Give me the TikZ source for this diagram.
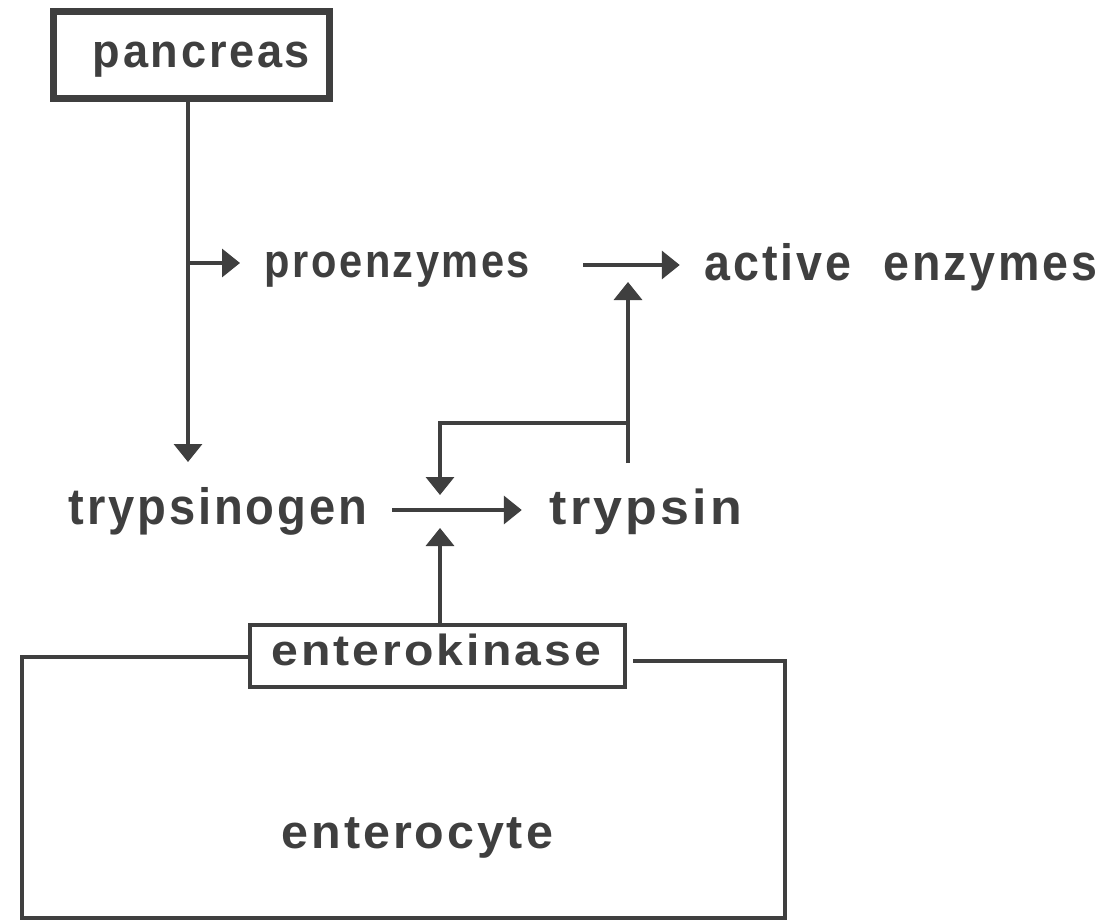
\documentclass[tikz,border=0pt]{standalone}
\usepackage{fontspec}
\setmainfont{Liberation Sans}[LetterSpace=6]
\usepackage{graphicx}
\usetikzlibrary{arrows.meta}
\definecolor{ink}{HTML}{3F3F3F}
\tikzset{
  lbl/.style={inner sep=0pt, anchor=base, text=ink, font=\bfseries},
  conn/.style={draw=ink, line width=3.5pt},
  arr/.style={conn, -{Triangle[length=18pt,width=28pt]}},
  thickbox/.style={draw=ink, line width=7pt, inner sep=0pt},
  thinbox/.style={draw=ink, line width=4pt, inner sep=0pt},
}
% #1 = width, #2 = x-height, #3 = text
\newcommand{\fitxh}[3]{\resizebox{#1}{#2}{\smash{#3}\vphantom{x}}}
\begin{document}
\begin{tikzpicture}[x=1pt,y=-1pt]
  \useasboundingbox[fill=white] (0,0) rectangle (1112,921);
  % boxes and labels
  \node[thickbox, minimum width=276pt, minimum height=87pt] (pbox) at (191.5,55) {};
  \node[lbl] (pancreas) at (201.5,67) {\fitxh{217pt}{25pt}{pancreas}};
  \node[lbl] (proenzymes) at (397.5,277) {\fitxh{265pt}{25pt}{proenzymes}};
  \node[lbl] (active) at (901,280) {\fitxh{392pt}{27pt}{active\hspace{0.7em}enzymes}};
  \node[lbl] (trypsinogen) at (218,524) {\fitxh{298pt}{27pt}{trypsinogen}};
  \node[lbl] (trypsin) at (646,524) {\fitxh{192pt}{26pt}{trypsin}};
  \node[thinbox, minimum width=375pt, minimum height=62pt] (ekbox) at (437.5,656) {};
  \node[lbl] (enterokinase) at (436.5,665) {\fitxh{329pt}{23pt}{enterokinase}};
  \node[lbl] (enterocyte) at (417.5,848) {\fitxh{271pt}{25pt}{enterocyte}};
  % helper coordinates
  \coordinate (jP) at (188,263);
  \coordinate (tT) at (188,462);
  \coordinate (tPE) at (240,263);
  \coordinate (rA) at (0,265);
  \coordinate (rB) at (0,510);
  \coordinate (fb) at (628,463);
  \coordinate (fbj) at (628,423);
  \coordinate (tA) at (628,282);
  \coordinate (tR) at (440,495);
  \coordinate (tE) at (440,528);
  \coordinate (c1) at (22,657);
  \coordinate (c2) at (22,918);
  \coordinate (c3) at (785,918);
  \coordinate (c4) at (785,661);
  \coordinate (c5) at (633,661);
  % connectors
  \draw[arr] (pbox.south -| jP) -- (tT);
  \draw[arr] (jP) -- (tPE);
  \draw[arr, shorten <=53pt, shorten >=25pt] (proenzymes.east |- rA) -- (active.west |- rA);
  \draw[arr] (fb) -- (tA);
  \draw[arr] (fbj) -- (fbj -| tR) -- (tR);
  \draw[arr, shorten <=25pt, shorten >=28pt] (trypsinogen.east |- rB) -- (trypsin.west |- rB);
  \draw[arr] (ekbox.north -| tE) -- (tE);
  % enterocyte outline
  \draw[conn] (ekbox.west |- c1) -- (c1) -- (c2) -- (c3) -- (c4) -- (c5);
\end{tikzpicture}
\end{document}
